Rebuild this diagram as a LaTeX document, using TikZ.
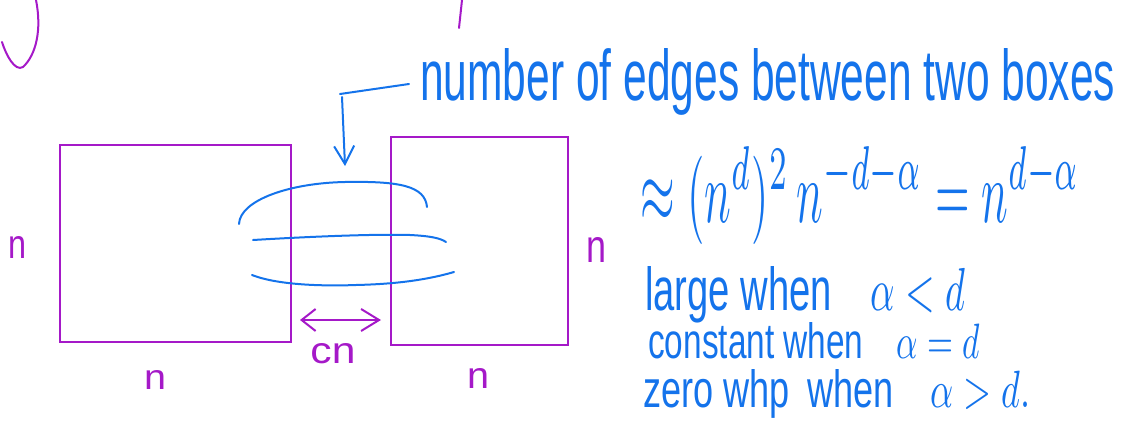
\documentclass[tikz,border=0pt]{standalone}
\usepackage{fontspec}
\setmainfont{Liberation Sans}
\usetikzlibrary{arrows.meta}
\definecolor{inkblue}{RGB}{20,115,235}
\definecolor{inkpurple}{RGB}{165,25,200}
\tikzset{
  box/.style={draw=inkpurple, line width=1.6pt, inner sep=0pt},
  bluestroke/.style={draw=inkblue, line width=2pt, line cap=round},
  purplestroke/.style={draw=inkpurple, line width=2pt, line cap=round},
  bluetext/.style={text=inkblue, inner sep=0pt, anchor=base west},
  purpletext/.style={text=inkpurple, inner sep=0pt},
}
\begin{document}
\begin{tikzpicture}[x=1pt,y=-1pt]
\useasboundingbox (0,0) rectangle (1123,431);
% fragments at top
\draw[purplestroke] (36,0) .. controls (42,30) and (36,55) .. (23,67) .. controls (15,72) and (6,55) .. (2,42);
\draw[purplestroke] (462,0) -- (459,28);
% boxes
\node[box, minimum width=231pt, minimum height=197pt] (boxL) at (175.5,243.5) {};
\node[box, minimum width=177pt, minimum height=208pt] (boxR) at (479.5,241) {};
% edges
\coordinate (e1a) at (239,224);
\coordinate (e1b) at (427,207);
\draw[bluestroke] (e1a) .. controls (240,200) and (290,183) .. (345,182) .. controls (400,181) and (425,186) .. (e1b);
\coordinate (e2a) at (253,240);
\coordinate (e2b) at (446,242);
\draw[bluestroke] (e2a) .. controls (320,236) and (380,234) .. (410,235) .. controls (430,236) and (440,238) .. (e2b);
\coordinate (e3a) at (252,275);
\coordinate (e3b) at (454,272);
\draw[bluestroke] (e3a) .. controls (280,286) and (330,286) .. (356,285) .. controls (400,284) and (430,279) .. (e3b);
% labels n
\node[purpletext] (nL) at (18,247) {\resizebox{18pt}{22pt}{n}};
\node[purpletext] (nBL) at (155,380) {\resizebox{22pt}{19pt}{n}};
\node[purpletext] (nBR) at (478,378) {\resizebox{22pt}{20pt}{n}};
\node[purpletext] (nR) at (596,250) {\resizebox{20pt}{25pt}{n}};
% gap arrow
\coordinate (gL) at (300,320);
\coordinate (gR) at (381,320);
\draw[purplestroke, {Straight Barb[length=14pt,width=22pt]}-{Straight Barb[length=18pt,width=22pt]}] (gL) -- (gR);
\node[purpletext] (cn) at (333,354) {\resizebox{45pt}{20pt}{cn}};
% annotation
\node[bluetext] (lbl) at (420,100) {\resizebox{695pt}{52pt}{number of edges between two boxes}};
\coordinate (lead) at (409,84);
\coordinate (corner) at (340,94);
\coordinate (tip) at (345,166);
\draw[bluestroke] (lead) -- (corner);
\draw[bluestroke, -{Straight Barb[length=18pt,width=20pt]}] (342,97) -- (tip);
% formula
\node[bluetext] (f) at (640,222) {\resizebox{440pt}{75pt}{$\approx (n^d)^2\, n^{-d-\alpha} = n^{d-\alpha}$}};
% cases
\node[bluetext] (c1) at (645,310) {\resizebox{320pt}{44pt}{large when\quad $\alpha<d$}};
\node[bluetext] (c2) at (648,358) {\resizebox{332pt}{36pt}{constant when\quad $\alpha=d$}};
\node[bluetext] (c3) at (643,407) {\resizebox{387pt}{38pt}{zero whp\enspace when\quad $\alpha>d.$}};
\end{tikzpicture}
\end{document}
